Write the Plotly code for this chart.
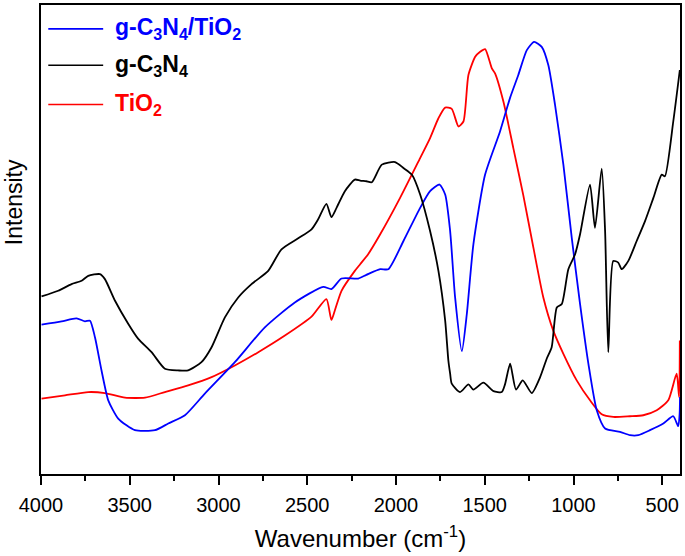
import plotly.graph_objects as go

# g-C3N4/TiO2 (blue)
wn_comp = [3997, 3884, 3800, 3752, 3724, 3696, 3659, 3621, 3565, 3471, 3358, 3283, 3189, 3077,
           2908, 2739, 2570, 2410, 2364, 2307, 2213, 2167, 2089, 2043, 1958, 1864, 1808, 1755,
           1723, 1695, 1667, 1629, 1601, 1564, 1498, 1414, 1357, 1311, 1263, 1222, 1179, 1142,
           1104, 1057, 1010, 963, 916, 869, 822, 738, 682, 635, 569, 494, 438, 410, 402, 400]
int_comp = [150, 153.3, 156.3, 153.3, 154, 137.3, 104, 74, 55.7, 44, 44, 50.7, 59, 80.7,
            112.3, 147.3, 172.3, 188, 185.7, 196.3, 196.3, 200, 205.7, 205.7, 234, 267.3, 284, 290.7,
            280.7, 244, 177.3, 123.3, 160.7, 230.7, 300.7, 344, 378, 400.7, 425.7, 434, 429, 410.7,
            370.7, 310.7, 237.3, 170.7, 110.7, 64, 45.7, 42.3, 39, 39, 44, 50.7, 58, 48, 60.7, 77.3]

# g-C3N4 (black)
wn_gcn = [3997, 3903, 3828, 3771, 3734, 3668, 3640, 3583, 3508, 3452, 3377, 3302, 3227, 3171,
          3096, 3039, 2964, 2889, 2814, 2720, 2645, 2551, 2476, 2439, 2392, 2364, 2335, 2288,
          2232, 2202, 2167, 2136, 2080, 2005, 1958, 1911, 1864, 1808, 1761, 1723, 1705, 1695,
          1686, 1639, 1592, 1564, 1508, 1451, 1404, 1386, 1357, 1324, 1286, 1235, 1188, 1151,
          1123, 1094, 1066, 1029, 991, 963, 907, 879, 841, 822, 804, 776, 748, 728, 691, 644,
          597, 550, 503, 485, 438, 401]
int_gcn = [178.3, 184, 190.7, 194, 199, 200.7, 195.7, 174, 150.7, 135.7, 122.3, 105.7, 104, 104,
           112.3, 127.3, 157.3, 177.3, 190.7, 204, 225.7, 236.7, 245.7, 255.7, 271.3, 258, 267.3, 284,
           295.7, 294.7, 294, 293, 310.7, 313.3, 307.3, 300.7, 280.7, 244, 204, 154, 114, 100.7,
           90.7, 82.3, 90, 84.7, 91.7, 83.3, 82.3, 90, 110.7, 84.7, 94, 81.3, 97.3, 115.7,
           127.3, 167.3, 170.7, 205.7, 220.7, 240.7, 290.7, 247.3, 306.7, 244, 122.3, 214, 212.3, 205.7, 214, 234,
           254, 277.3, 300.7, 299, 354, 405.7]

# TiO2 (red)
wn_tio2 = [3997, 3865, 3734, 3640, 3527, 3414, 3302, 3171, 3039, 2908, 2776, 2626, 2476, 2392,
           2364, 2345, 2307, 2232, 2202, 2157, 2089, 1977, 1864, 1808, 1761, 1723, 1686, 1648,
           1620, 1592, 1554, 1526, 1498, 1460, 1442, 1395, 1339, 1283, 1226, 1170, 1114, 1057,
           982, 907, 841, 776, 682, 607, 531, 466, 419, 405, 401]
int_tio2 = [75.7, 79, 82.3, 81.3, 76.7, 76.7, 82.3, 89, 97.3, 109, 122.3, 139, 158, 175.7,
            154.7, 164, 184, 204, 210.7, 220.7, 240.7, 277.3, 317.3, 337.3, 357.3, 368, 366.7, 349,
            354, 400.7, 419, 424, 426.7, 407.3, 402.3, 374, 327.3, 280, 227.3, 177.3, 144, 120.7,
            94, 74, 60, 57.3, 58, 59, 64, 74, 100.7, 77.3, 134]

x_ticks = [4000, 3500, 3000, 2500, 2000, 1500, 1000, 500]
x_minor = [3750, 3250, 2750, 2250, 1750, 1250, 750]

series = [
    ("g-C<sub>3</sub>N<sub>4</sub>/TiO<sub>2</sub>", wn_comp, int_comp, "#0000FF"),
    ("g-C<sub>3</sub>N<sub>4</sub>", wn_gcn, int_gcn, "#000000"),
    ("TiO<sub>2</sub>", wn_tio2, int_tio2, "#FF0000"),
]

fig = go.Figure()
for name, x, y, c in [series[2], series[0], series[1]]:
    fig.add_trace(go.Scatter(x=x, y=y, mode="lines", name=name,
                             line=dict(color=c, width=1.8, shape="spline", smoothing=0.6),
                             showlegend=False))

# manual legend
rows = [0.949, 0.8715, 0.7877]
shapes = []
annotations = []
for (name, _, _, c), ry in zip(series, rows):
    shapes.append(dict(type="line", xref="paper", yref="paper", x0=0.0114, x1=0.0973,
                       y0=ry, y1=ry, line=dict(color=c, width=1.6)))
    annotations.append(dict(xref="paper", yref="paper", x=0.1129, y=ry, xanchor="left",
                            yanchor="middle", showarrow=False, text="<b>" + name + "</b>",
                            font=dict(family="Liberation Sans, Arial", size=23, color=c)))

annotations.append(dict(xref="paper", yref="paper", x=-0.042, y=0.58, xanchor="center",
                        yanchor="middle", showarrow=False, text="Intensity", textangle=-90,
                        font=dict(family="Liberation Sans, Arial", size=23, color="black")))

fig.update_layout(
    width=685, height=556,
    margin=dict(l=41, r=4, t=3, b=82),
    paper_bgcolor="white", plot_bgcolor="white",
    shapes=shapes, annotations=annotations,
    font=dict(family="Liberation Sans, Arial", color="black"),
    xaxis=dict(range=[4000, 400], tickvals=x_ticks, ticks="outside", ticklen=9, tickwidth=1.5,
               tickcolor="black", showline=True, linecolor="black", linewidth=1.8, mirror=True,
               showgrid=False, zeroline=False, tickfont=dict(size=20), ticklabelstandoff=3,
               minor=dict(tickvals=x_minor, ticks="outside",
                          ticklen=5, tickwidth=1.5, tickcolor="black"),
               title=dict(text="Wavenumber (cm<sup>-1</sup>)", font=dict(size=24), standoff=15)),
    yaxis=dict(range=[0, 471], showticklabels=False, ticks="", showline=True, linecolor="black",
               linewidth=1.8, mirror=True, showgrid=False, zeroline=False),
)

fig.write_html("out.html", config={"displayModeBar": False},
               post_script="document.body.style.margin='0';document.body.style.overflow='hidden';")
